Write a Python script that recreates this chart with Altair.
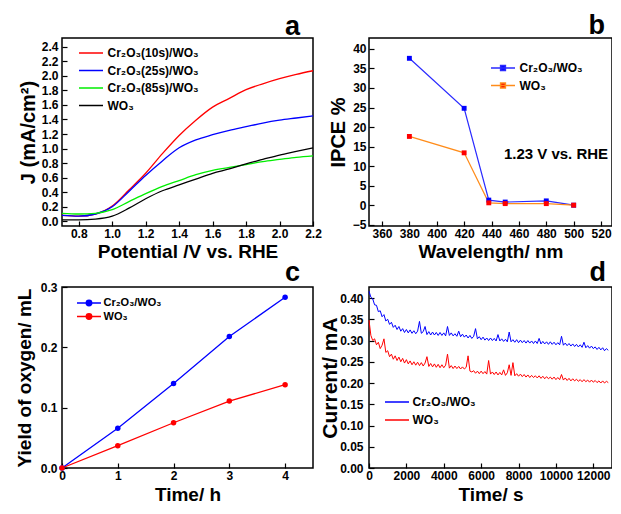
import altair as alt
import pandas as pd

FONT = "Liberation Sans"

# ---------------- Panel a : J-V curves ----------------
pot = [0.7, 0.8, 0.9, 1.0, 1.1, 1.2, 1.3, 1.4, 1.5, 1.6, 1.7, 1.8, 1.9, 2.0, 2.1, 2.2]
j_cr10 = [0.08, 0.07, 0.10, 0.21, 0.43, 0.66, 0.93, 1.18, 1.39, 1.57, 1.69, 1.81, 1.89, 1.96, 2.02, 2.07]
j_cr25 = [0.08, 0.07, 0.10, 0.20, 0.41, 0.63, 0.83, 1.01, 1.12, 1.19, 1.25, 1.30, 1.35, 1.39, 1.42, 1.45]
j_cr85 = [0.11, 0.10, 0.11, 0.16, 0.27, 0.38, 0.48, 0.56, 0.64, 0.70, 0.74, 0.78, 0.82, 0.85, 0.88, 0.90]
j_wo3 = [0.02, 0.02, 0.03, 0.07, 0.18, 0.31, 0.42, 0.50, 0.58, 0.66, 0.72, 0.79, 0.85, 0.91, 0.96, 1.01]
names_a = ["Cr₂O₃(10s)/WO₃", "Cr₂O₃(25s)/WO₃", "Cr₂O₃(85s)/WO₃", "WO₃"]
colors_a = ["#ff0000", "#0000ff", "#00ee00", "#000000"]

# ---------------- Panel b : IPCE ----------------
wl = [380, 420, 438, 450, 480, 500]
ipce_cr = [37.6, 24.8, 1.3, 0.8, 1.1, 0.0]
ipce_wo3 = [17.6, 13.4, 0.6, 0.4, 0.4, 0.0]
names_bc = ["Cr₂O₃/WO₃", "WO₃"]

# ---------------- Panel c : O2 yield ----------------
hours = [0, 1, 2, 3, 4]
o2_cr = [0.0, 0.066, 0.140, 0.218, 0.283]
o2_wo3 = [0.0, 0.037, 0.075, 0.111, 0.138]

# ---------------- Panel d : i-t ----------------
t_d = list(range(0, 12900, 100))
cur_cr = [
    0.416, 0.402, 0.398, 0.384, 0.383, 0.368, 0.370, 0.356, 0.361, 0.346,
    0.350, 0.338, 0.343, 0.331, 0.336, 0.326, 0.333, 0.322, 0.328, 0.319,
    0.326, 0.318, 0.325, 0.317, 0.323, 0.316, 0.322, 0.345, 0.317, 0.321,
    0.333, 0.314, 0.321, 0.313, 0.320, 0.313, 0.319, 0.312, 0.319, 0.312,
    0.318, 0.311, 0.333, 0.312, 0.318, 0.311, 0.316, 0.310, 0.322, 0.309,
    0.315, 0.308, 0.313, 0.306, 0.312, 0.305, 0.310, 0.328, 0.304, 0.309,
    0.302, 0.308, 0.301, 0.306, 0.300, 0.306, 0.300, 0.305, 0.299, 0.314,
    0.299, 0.304, 0.298, 0.303, 0.297, 0.320, 0.297, 0.302, 0.296, 0.302,
    0.295, 0.301, 0.295, 0.300, 0.294, 0.300, 0.294, 0.299, 0.293, 0.299,
    0.293, 0.305, 0.292, 0.298, 0.292, 0.297, 0.291, 0.297, 0.291, 0.296,
    0.290, 0.295, 0.290, 0.310, 0.289, 0.294, 0.288, 0.293, 0.287, 0.292,
    0.286, 0.291, 0.285, 0.290, 0.284, 0.296, 0.283, 0.288, 0.282, 0.287,
    0.281, 0.285, 0.279, 0.284, 0.278, 0.283, 0.276, 0.281, 0.277,
]
cur_wo3 = [
    0.348, 0.312, 0.300, 0.304, 0.290, 0.296, 0.281, 0.289, 0.304, 0.272,
    0.276, 0.262, 0.268, 0.256, 0.264, 0.253, 0.261, 0.250, 0.258, 0.247,
    0.255, 0.245, 0.252, 0.243, 0.250, 0.242, 0.249, 0.241, 0.248, 0.240,
    0.247, 0.262, 0.239, 0.246, 0.238, 0.245, 0.237, 0.244, 0.236, 0.243,
    0.236, 0.242, 0.268, 0.235, 0.241, 0.234, 0.240, 0.234, 0.239, 0.233,
    0.238, 0.233, 0.237, 0.264, 0.228, 0.226, 0.229, 0.223, 0.228, 0.222,
    0.228, 0.222, 0.227, 0.221, 0.253, 0.221, 0.226, 0.220, 0.226, 0.219,
    0.225, 0.219, 0.231, 0.218, 0.224, 0.243, 0.218, 0.248, 0.217, 0.222,
    0.216, 0.221, 0.215, 0.220, 0.214, 0.219, 0.213, 0.218, 0.213, 0.217,
    0.212, 0.217, 0.211, 0.216, 0.210, 0.215, 0.210, 0.214, 0.209, 0.214,
    0.208, 0.213, 0.208, 0.220, 0.207, 0.212, 0.206, 0.211, 0.205, 0.210,
    0.205, 0.209, 0.204, 0.208, 0.203, 0.208, 0.203, 0.207, 0.202, 0.207,
    0.202, 0.206, 0.201, 0.205, 0.200, 0.205, 0.200, 0.204, 0.201,
]

# panel letters and the annotation (positions in data units, just outside the frame)
letters = ["a", "b", "c", "d"]
letter_pos = [(2.122, 2.561), (522.9, 43.82), (4.267, 0.3099), (12679, 0.4401)]
note_b = ("1.23 V vs. RHE", 487.1, 13.1)


def long_df(xs, series, names, xname, yname):
    rows = []
    for name, ys in zip(names, series):
        for x, y in zip(xs, ys):
            rows.append({xname: x, yname: y, "s": name})
    return pd.DataFrame(rows)


def xaxis(values, title, fmt, title_y, title_size=19, label_size=12, label_pad=2):
    return alt.Axis(values=values, title=title, format=fmt, offset=-5, tickSize=5,
                    tickWidth=1.2, labelPadding=label_pad, domain=False, grid=False,
                    labelFontSize=label_size, titleFontSize=title_size,
                    titleY=title_y, titleBaseline="alphabetic",
                    labelFlush=False, labelOverlap=False)


def yaxis(values, title, fmt, title_x, label_pad, title_size=20, label_size=12):
    return alt.Axis(values=values, title=title, format=fmt, offset=-5, tickSize=5,
                    tickWidth=1.2, labelPadding=label_pad, domain=False, grid=False,
                    labelFontSize=label_size, titleFontSize=title_size,
                    titleX=title_x, titleBaseline="alphabetic",
                    labelFlush=False, labelOverlap=False)


def legend(path, lx, ly, row_pad, label_off, size=12):
    return alt.Legend(title=None, orient="none", legendX=lx, legendY=ly,
                      symbolType=path, symbolSize=144, symbolStrokeWidth=1.5,
                      labelFontSize=size, labelOffset=label_off, rowPadding=row_pad,
                      padding=0)


def letter_layer(i, X, Y, xname, yname):
    df = pd.DataFrame({xname: [letter_pos[i][0]], yname: [letter_pos[i][1]], "lbl": [letters[i]]})
    return alt.Chart(df).mark_text(font=FONT, fontSize=27, fontWeight="bold", color="black",
                                   align="right", baseline="alphabetic").encode(
        x=X, y=Y, text="lbl:N")


LINE = "M-2,0H2"
LINE_SQ = "M-2,0H2M-0.4,-0.4H0.4V0.4H-0.4Z"
LINE_CIRC = "M-2,0H2M-0.45,0A0.45,0.45,0,1,1,0.45,0A0.45,0.45,0,1,1,-0.45,0Z"

# ---------- a ----------
dfa = long_df(pot, [j_cr10, j_cr25, j_cr85, j_wo3], names_a, "V", "J")
Xa = alt.X("V:Q", scale=alt.Scale(domain=[0.7, 2.2], nice=False, zero=False),
           axis=xaxis([0.8, 1.0, 1.2, 1.4, 1.6, 1.8, 2.0, 2.2], "Potential /V vs. RHE", ".1f", 36))
Ya = alt.Y("J:Q", scale=alt.Scale(domain=[-0.065, 2.52], nice=False, zero=False),
           axis=yaxis([0.0, 0.2, 0.4, 0.6, 0.8, 1.0, 1.2, 1.4, 1.6, 1.8, 2.0, 2.2, 2.4],
                      "J (mA/cm²)", ".1f", -33, 4))
a_lines = alt.Chart(dfa).mark_line(strokeWidth=1.3, interpolate="monotone").encode(
    x=Xa, y=Ya,
    color=alt.Color("s:N", scale=alt.Scale(domain=names_a, range=colors_a),
                    legend=legend(LINE, 22, 8, 4.5, 9.5)),
)
chart_a = alt.layer(a_lines, letter_layer(0, Xa, Ya, "V", "J")).properties(width=251, height=188)

# ---------- b ----------
dfb = long_df(wl, [ipce_cr, ipce_wo3], names_bc, "wl", "ipce")
Xb = alt.X("wl:Q", scale=alt.Scale(domain=[350.5, 528], nice=False, zero=False),
           axis=xaxis([360, 380, 400, 420, 440, 460, 480, 500, 520], "Wavelength/ nm", "d", 36))
Yb = alt.Y("ipce:Q", scale=alt.Scale(domain=[-5.33, 42.8], nice=False, zero=False),
           axis=yaxis([-5, 0, 5, 10, 15, 20, 25, 30, 35, 40], "IPCE %", "d", -30, 3))
leg_b = legend(LINE_SQ, 127, 23, 4.5, 9.5)
b_line = alt.Chart(dfb).mark_line(strokeWidth=1.2).encode(
    x=Xb, y=Yb,
    color=alt.Color("s:N", scale=alt.Scale(domain=names_bc, range=["#2a2aff", "#ff8c1a"]),
                    legend=leg_b),
)
b_pts = alt.Chart(dfb).mark_square(size=24, opacity=1).encode(
    x=Xb, y=Yb,
    fill=alt.Fill("s:N", scale=alt.Scale(domain=names_bc, range=["#0000ff", "#ff0000"]),
                  legend=leg_b),
)
b_txt = alt.Chart(pd.DataFrame({"wl": [note_b[1]], "ipce": [note_b[2]], "lbl": [note_b[0]]})).mark_text(
    font=FONT, fontSize=15, fontWeight="bold", color="black", align="center", baseline="middle"
).encode(x=Xb, y=Yb, text="lbl:N")
chart_b = alt.layer(b_line, b_pts, b_txt, letter_layer(1, Xb, Yb, "wl", "ipce")).properties(
    width=243, height=188)

# ---------- c ----------
dfc = long_df(hours, [o2_cr, o2_wo3], names_bc, "h", "o2")
Xc = alt.X("h:Q", scale=alt.Scale(domain=[0, 4.5], nice=False),
           axis=xaxis([0, 1, 2, 3, 4], "Time/ h", "d", 37, title_size=19))
Yc = alt.Y("o2:Q", scale=alt.Scale(domain=[0, 0.3], nice=False),
           axis=yaxis([0.0, 0.1, 0.2, 0.3], "Yield of oxygen/ mL", ".1f", -37, 5, title_size=19))
Cc = alt.Color("s:N", scale=alt.Scale(domain=names_bc, range=["#0000ff", "#ff0000"]),
               legend=legend(LINE_CIRC, 20, 9, 0.5, 7.5, size=11))
c_line = alt.Chart(dfc).mark_line(strokeWidth=1.3).encode(x=Xc, y=Yc, color=Cc)
c_pts = alt.Chart(dfc).mark_circle(size=30, opacity=1).encode(x=Xc, y=Yc, color=Cc)
chart_c = alt.layer(c_line, c_pts, letter_layer(2, Xc, Yc, "h", "o2")).properties(
    width=251, height=181)

# ---------- d ----------
dfd = long_df(t_d, [cur_cr, cur_wo3], names_bc, "t", "i")
Xd = alt.X("t:Q", scale=alt.Scale(domain=[0, 13000], nice=False),
           axis=xaxis([0, 2000, 4000, 6000, 8000, 10000, 12000], "Time/ s", "d", 37,
                      title_size=19))
Yd = alt.Y("i:Q", scale=alt.Scale(domain=[0, 0.426], nice=False),
           axis=yaxis([0.0, 0.05, 0.10, 0.15, 0.20, 0.25, 0.30, 0.35, 0.40],
                      "Current/ mA", ".2f", -38, 6, title_size=21))
d_lines = alt.Chart(dfd).mark_line(strokeWidth=1.0).encode(
    x=Xd, y=Yd,
    color=alt.Color("s:N", scale=alt.Scale(domain=names_bc, range=["#0000ff", "#ff0000"]),
                    legend=legend(LINE, 21, 108, 5, 8.5)),
)
chart_d = alt.layer(d_lines, letter_layer(3, Xd, Yd, "t", "i")).properties(width=243, height=181)

chart = alt.concat(
    chart_a, chart_b, chart_c, chart_d, columns=2,
    spacing={"row": 61, "column": 56}, bounds="flush",
).resolve_scale(color="independent", fill="independent").properties(
    padding={"left": 6, "top": 3, "right": -1, "bottom": 0}
).configure_view(
    stroke="black", strokeWidth=1.5
).configure_axis(
    labelFont=FONT, titleFont=FONT, labelFontWeight="bold", titleFontWeight="bold",
    labelColor="black", titleColor="black", tickColor="black", grid=False,
    labelOverlap=False,
).configure_legend(
    labelFont=FONT, labelFontWeight="bold", labelColor="black",
).configure_title(font=FONT, color="black")

chart.save("out.html", embed_options={"renderer": "svg", "actions": False})
